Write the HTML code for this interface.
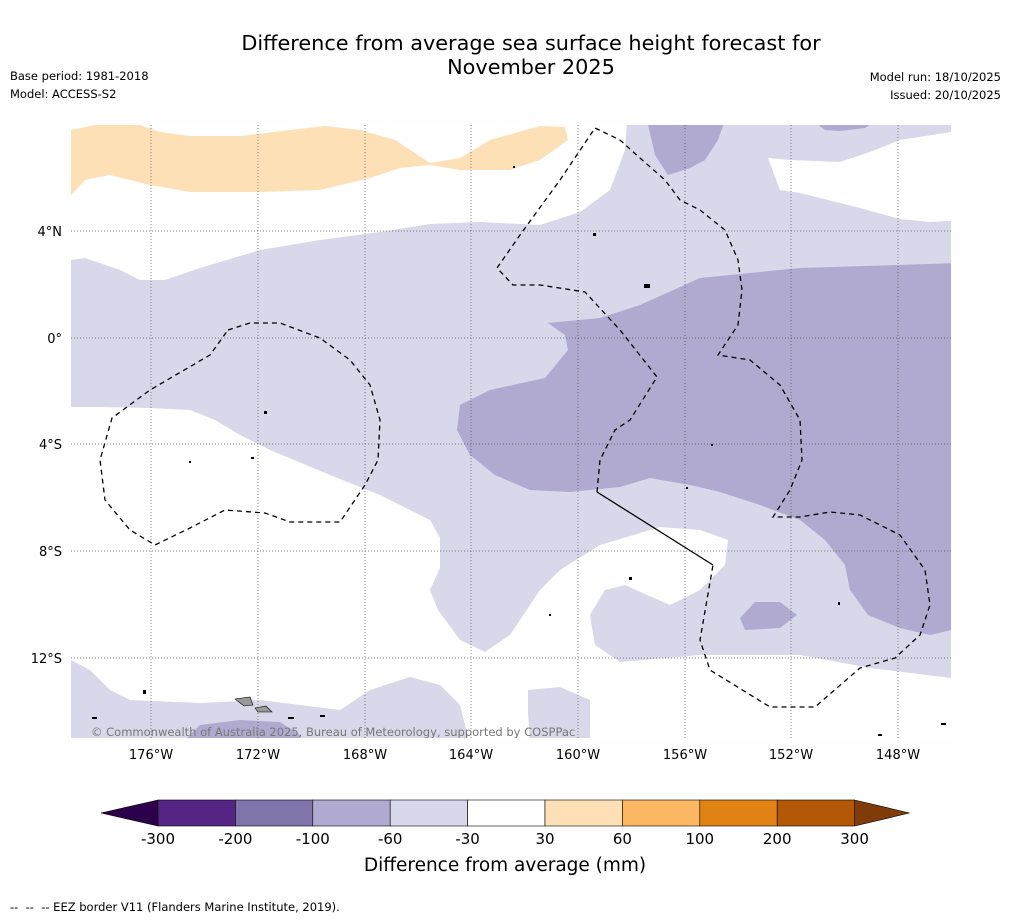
<!DOCTYPE html>
<html><head><meta charset="utf-8"><style>
body{margin:0;background:#fefefe;font-family:"DejaVu Sans","Liberation Sans",sans-serif;}
svg text{font-family:"DejaVu Sans","Liberation Sans",sans-serif;}
</style></head><body>
<svg width="1011" height="919" xmlns="http://www.w3.org/2000/svg">
<rect width="1011" height="919" fill="#fefefe"/>
<text x="531" y="50" font-size="20.8" text-anchor="middle">Difference from average sea surface height forecast for</text>
<text x="531" y="74" font-size="20.8" text-anchor="middle">November 2025</text>
<text x="10" y="80" font-size="11.5">Base period: 1981-2018</text>
<text x="10" y="98" font-size="11.5">Model: ACCESS-S2</text>
<text x="1001" y="81" font-size="11.5" text-anchor="end">Model run: 18/10/2025</text>
<text x="1001" y="99" font-size="11.5" text-anchor="end">Issued: 20/10/2025</text>
<defs><clipPath id="mc"><rect x="71" y="125" width="880" height="613"/></clipPath></defs>
<g clip-path="url(#mc)">
<rect x="71" y="125" width="880" height="613" fill="#fff"/>
<polygon fill="#d8d8ea" points="71,260 85,258 120,270 140,280 165,280 200,268 260,250 320,240 380,232 430,224 480,222 540,225 580,212 610,190 625,150 627,120 960,120 960,680 951,678 870,668 800,655 700,655 620,662 595,645 590,615 605,590 625,585 670,605 700,590 725,565 728,540 700,530 660,527 600,545 560,570 540,590 510,635 485,652 460,640 438,610 430,590 440,568 440,538 430,520 380,495 330,475 270,450 240,435 215,420 190,410 150,408 100,407 71,407"/>
<polygon fill="#fff" points="768,158 790,160 840,162 870,152 900,140 951,132 960,132 960,220 930,222 900,219 860,208 800,193 780,190"/>
<polygon fill="#d8d8ea" points="71,660 90,670 110,690 130,700 200,703 260,700 300,705 340,710 370,690 410,677 440,685 460,705 470,745 71,745"/>
<polygon fill="#d8d8ea" points="528,690 560,687 590,700 590,745 530,745 528,712"/>
<polygon fill="#b0a9d0" points="548,323 600,318 640,305 700,278 800,268 960,263 960,628 930,635 900,628 868,615 850,590 845,565 825,540 800,520 760,505 720,492 690,485 650,478 620,487 570,492 530,490 495,475 470,455 457,430 460,405 490,390 545,378 568,350 565,335"/>
<polygon fill="#b0a9d0" points="740,618 755,602 780,602 797,615 780,628 745,630"/>
<polygon fill="#b0a9d0" points="647,120 725,120 718,140 705,160 690,168 668,175 655,155"/>
<polygon fill="#b0a9d0" points="812,120 878,120 865,128 840,131 825,130"/>
<polygon fill="#b0a9d0" points="200,725 240,720 280,722 300,735 300,745 180,745"/>
<polygon fill="#fde0b6" points="71,130 95,125 140,125 160,132 190,136 240,136 290,130 325,126 360,130 395,140 430,163 460,158 490,140 540,126 565,127 568,140 540,160 510,170 460,170 430,165 400,168 370,178 320,190 260,192 190,192 150,185 110,175 85,180 71,195"/>
<g stroke="#555" stroke-width="0.7" stroke-dasharray="1,2">
<line x1="151" y1="125" x2="151" y2="738"/><line x1="258" y1="125" x2="258" y2="738"/><line x1="365" y1="125" x2="365" y2="738"/><line x1="471" y1="125" x2="471" y2="738"/><line x1="578" y1="125" x2="578" y2="738"/><line x1="685" y1="125" x2="685" y2="738"/><line x1="791" y1="125" x2="791" y2="738"/><line x1="898" y1="125" x2="898" y2="738"/>
<line x1="71" y1="231" x2="951" y2="231"/><line x1="71" y1="338" x2="951" y2="338"/><line x1="71" y1="444" x2="951" y2="444"/><line x1="71" y1="551" x2="951" y2="551"/><line x1="71" y1="658" x2="951" y2="658"/>
</g>
<g fill="none" stroke="#000" stroke-width="1.3" stroke-dasharray="5,4">
<polyline points="597,492 600,460 615,430 630,420 657,377 620,330 585,292 540,285 513,285 497,268 520,235 560,180 595,128 620,140 640,158 665,180 680,200 700,210 725,230 738,260 742,290 738,325 718,355 750,360 780,385 800,420 802,460 790,490 773,517 800,517 830,512 860,515 900,535 925,570 930,605 920,635 895,658 860,668 815,707 770,707 710,670 700,640 713,565"/>
<polygon points="228,330 250,323 280,323 320,338 350,360 370,385 380,420 378,460 365,485 340,522 290,522 265,513 225,510 190,528 155,545 130,530 105,500 100,460 112,418 150,390 210,355"/>
</g>
<line x1="713" y1="565" x2="597" y2="492" stroke="#000" stroke-width="1.3"/>
<g fill="#000">
<rect x="264" y="411" width="3" height="3"/><rect x="189" y="461" width="2" height="2"/><rect x="251" y="457" width="3" height="2"/><rect x="593" y="233" width="3" height="3"/><rect x="644" y="284" width="6" height="4"/><rect x="711" y="444" width="2" height="2"/><rect x="686" y="487" width="2" height="2"/><rect x="629" y="577" width="3" height="3"/><rect x="549" y="614" width="2" height="2"/><rect x="143" y="690" width="3" height="4"/><rect x="92" y="717" width="5" height="2"/><rect x="288" y="717" width="6" height="2"/><rect x="320" y="715" width="5" height="2"/><rect x="513" y="166" width="2" height="2"/><rect x="838" y="602" width="2" height="3"/><rect x="878" y="734" width="4" height="2"/><rect x="941" y="723" width="5" height="2"/>
<polygon points="235,699 250,697 253,705 244,706" fill="#999" stroke="#000" stroke-width="0.6"/>
<polygon points="255,708 266,706 272,712 258,712" fill="#999" stroke="#000" stroke-width="0.6"/>
</g>
<text x="91" y="736" font-size="11.5" fill="#777">© Commonwealth of Australia 2025, Bureau of Meteorology, supported by COSPPac</text>
</g>
<g font-size="13">
<text x="151" y="759" text-anchor="middle">176°W</text><text x="258" y="759" text-anchor="middle">172°W</text><text x="365" y="759" text-anchor="middle">168°W</text><text x="471" y="759" text-anchor="middle">164°W</text><text x="578" y="759" text-anchor="middle">160°W</text><text x="685" y="759" text-anchor="middle">156°W</text><text x="791" y="759" text-anchor="middle">152°W</text><text x="898" y="759" text-anchor="middle">148°W</text>
<text x="62" y="236" text-anchor="end">4°N</text><text x="62" y="343" text-anchor="end">0°</text><text x="62" y="449" text-anchor="end">4°S</text><text x="62" y="556" text-anchor="end">8°S</text><text x="62" y="663" text-anchor="end">12°S</text>
</g>
<g id="cbar"></g>
<text x="505" y="871" font-size="18.5" text-anchor="middle">Difference from average (mm)</text>
<text x="10" y="911" font-size="11.5">-- &#160;-- &#160;-- EEZ border V11 (Flanders Marine Institute, 2019).</text>
</svg>
<script>
const bounds=[-300,-200,-100,-60,-30,30,60,100,200,300];
const colors=["#552586","#8174aa","#b0a9d0","#d8d8ea","#ffffff","#fde0b6","#fbb761","#e08214","#b35806"];
const NS="http://www.w3.org/2000/svg";
const g=document.getElementById('cbar');
const x0=158,seg=77.4,y0=800,h=26;
function mk(t,a){const e=document.createElementNS(NS,t);for(const k in a)e.setAttribute(k,a[k]);g.appendChild(e);return e;}
const lt=mk('polygon',{points:`${x0},${y0} ${x0-57},${y0+h/2} ${x0},${y0+h}`,fill:'#2d004b',stroke:'#000','stroke-width':0.6});


const xe=x0+seg*colors.length;
const rt=mk('polygon',{points:`${xe},${y0} ${xe+55},${y0+h/2} ${xe},${y0+h}`,fill:'#7f3b08',stroke:'#000','stroke-width':0.6});


colors.forEach((c,i)=>{
 const r=mk('rect',{x:x0+i*seg,y:y0,width:seg,height:h,fill:c,stroke:'#000','stroke-width':0.6});
 
 
});
bounds.forEach((b,i)=>{
 const t=mk('text',{x:x0+i*seg,y:844,'font-size':15,'text-anchor':'middle'});
 t.textContent=b;
 
 
});
</script>
</body></html>
